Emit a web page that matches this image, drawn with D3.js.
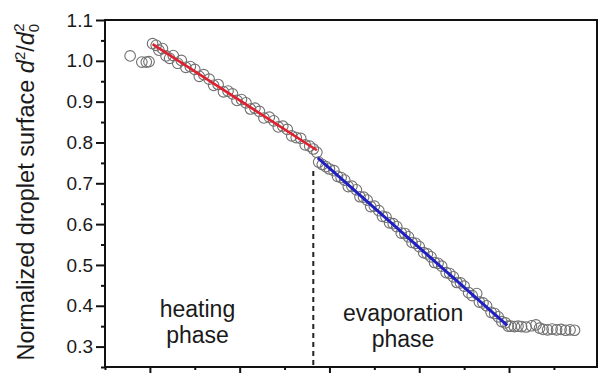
<!DOCTYPE html>
<html>
<head>
<meta charset="utf-8">
<script src="https://cdn.jsdelivr.net/npm/d3@7/dist/d3.min.js"></script>
<style>
  html, body { margin: 0; padding: 0; background: #fff; }
  svg { display: block; }
  text { font-family: "Liberation Sans", Arial, sans-serif; fill: #1a1a1a; }
</style>
</head>
<body>
<div id="chart"></div>
<script>
// Measured droplet surface (open circles), time in arbitrary units
const preX  = [0.78, 0.91, 0.96, 0.99];
const preY  = [1.012, 0.997, 0.997, 0.998];

const heatX = [1.03, 1.07, 1.10, 1.14, 1.18, 1.22, 1.26, 1.31, 1.35, 1.40, 1.45, 1.50, 1.55,
               1.60, 1.66, 1.71, 1.76, 1.82, 1.87, 1.92, 1.97, 2.02, 2.07, 2.12, 2.17, 2.22,
               2.27, 2.33, 2.38, 2.43, 2.48, 2.53, 2.58, 2.63, 2.68, 2.73, 2.78, 2.82, 2.86];
const heatY = [1.042, 1.038, 1.026, 1.030, 1.012, 1.006, 1.013, 0.994, 1.001, 0.984, 0.986, 0.979, 0.962,
               0.966, 0.955, 0.940, 0.942, 0.924, 0.926, 0.919, 0.903, 0.905, 0.897, 0.882, 0.884, 0.876,
               0.860, 0.862, 0.853, 0.838, 0.840, 0.832, 0.816, 0.812, 0.810, 0.794, 0.791, 0.784, 0.776];

const evapX = [2.88, 2.92, 2.96, 3.00, 3.05, 3.09, 3.13, 3.17, 3.21, 3.25, 3.30, 3.34, 3.38, 3.42,
               3.46, 3.50, 3.55, 3.59, 3.63, 3.67, 3.71, 3.75, 3.80, 3.84, 3.88, 3.92, 3.96, 4.00,
               4.05, 4.09, 4.13, 4.17, 4.21, 4.25, 4.30, 4.34, 4.38, 4.42, 4.46, 4.50, 4.55, 4.59,
               4.64, 4.67, 4.71, 4.75, 4.80, 4.84, 4.88, 4.92, 4.96, 4.99];
const evapY = [0.752, 0.746, 0.741, 0.735, 0.731, 0.717, 0.714, 0.708, 0.692, 0.693, 0.684, 0.667, 0.666, 0.659,
               0.643, 0.644, 0.633, 0.619, 0.617, 0.603, 0.601, 0.594, 0.578, 0.577, 0.569, 0.555, 0.553, 0.545,
               0.530, 0.527, 0.520, 0.506, 0.504, 0.497, 0.481, 0.479, 0.471, 0.457, 0.456, 0.448, 0.432, 0.425,
               0.430, 0.409, 0.407, 0.400, 0.384, 0.381, 0.373, 0.361, 0.358, 0.350];

const plateauX = [5.02, 5.06, 5.10, 5.14, 5.19, 5.25, 5.30, 5.34, 5.38, 5.43, 5.48, 5.53, 5.58, 5.63, 5.68, 5.73];
const plateauY = [0.350, 0.349, 0.350, 0.349, 0.348, 0.351, 0.353, 0.345, 0.342, 0.341, 0.343, 0.341, 0.342, 0.340, 0.341, 0.340];

// Linear fits for the two phases: [start, end]
const heatFitX = [1.03, 2.86];
const heatFitY = [1.041, 0.781];
const evapFitX = [2.87, 4.98];
const evapFitY = [0.762, 0.352];

// Phase boundary
const boundaryX = 2.82;
const boundaryTopY = 0.73;

const yTicks = [0.3, 0.4, 0.5, 0.6, 0.7, 0.8, 0.9, 1.0, 1.1];
const yMinor = [0.25, 0.35, 0.45, 0.55, 0.65, 0.75, 0.85, 0.95, 1.05];
const xTicks = [1, 2, 3, 4, 5];
const xMinor = [0.5, 1.5, 2.5, 3.5, 4.5, 5.5];

const phaseLabels = [
  { lines: ["heating", "phase"], x: 1.53, y: 0.372 },
  { lines: ["evaporation", "phase"], x: 3.82, y: 0.362 }
];

const W = 600, H = 383;
const margin = { left: 105, right: 3, top: 20, bottom: 16 };

const svg = d3.select("#chart").append("svg").attr("width", W).attr("height", H);

const x = d3.scaleLinear().domain([0.5, 5.98]).range([margin.left, W - margin.right]);
const y = d3.scaleLinear().domain([0.25, 1.1]).range([H - margin.bottom, margin.top]);

const toPts = (xs, ys) => xs.map((v, i) => [v, ys[i]]);
const points = [].concat(toPts(preX, preY), toPts(heatX, heatY), toPts(evapX, evapY), toPts(plateauX, plateauY));

// phase boundary
svg.append("line")
  .attr("x1", x(boundaryX)).attr("x2", x(boundaryX))
  .attr("y1", y(boundaryTopY)).attr("y2", y(0.25))
  .attr("stroke", "#222").attr("stroke-width", 2).attr("stroke-dasharray", "5,4");

// data circles
svg.append("g").selectAll("circle").data(points).join("circle")
  .attr("cx", d => x(d[0])).attr("cy", d => y(d[1])).attr("r", 5.3)
  .attr("fill", "none").attr("stroke", "#707070").attr("stroke-width", 1.1);

// fit lines
const line = d3.line().x(d => x(d[0])).y(d => y(d[1]));
svg.append("path").datum(toPts(heatFitX, heatFitY)).attr("d", line)
  .attr("fill", "none").attr("stroke", "#e0202e").attr("stroke-width", 2.6);
svg.append("path").datum(toPts(evapFitX, evapFitY)).attr("d", line)
  .attr("fill", "none").attr("stroke", "#1f1fc4").attr("stroke-width", 3);

// axes
const yAxis = svg.append("g").attr("transform", `translate(${margin.left},0)`)
  .call(d3.axisLeft(y).tickValues(yTicks).tickFormat(d3.format(".1f")).tickSize(9).tickPadding(3));
yAxis.selectAll("text").style("font-size", "19px");
svg.append("g").attr("transform", `translate(${margin.left},0)`)
  .call(d3.axisLeft(y).tickValues(yMinor).tickFormat("").tickSize(4));

svg.append("g").attr("transform", `translate(0,${H - margin.bottom})`)
  .call(d3.axisBottom(x).tickValues(xTicks).tickFormat("").tickSize(6));
svg.append("g").attr("transform", `translate(0,${H - margin.bottom})`)
  .call(d3.axisBottom(x).tickValues(xMinor).tickFormat("").tickSize(3));

svg.selectAll(".domain").remove();
svg.selectAll(".tick line").attr("stroke", "#111").attr("stroke-width", 2);

// frame
svg.append("rect")
  .attr("x", margin.left).attr("y", margin.top)
  .attr("width", W - margin.right - margin.left).attr("height", H - margin.bottom - margin.top)
  .attr("fill", "none").attr("stroke", "#111").attr("stroke-width", 2);

// phase labels
phaseLabels.forEach(p => {
  const t = svg.append("text").attr("text-anchor", "middle")
    .attr("x", x(p.x)).attr("y", y(p.y)).style("font-size", "23px");
  p.lines.forEach((s, i) => t.append("tspan").attr("x", x(p.x)).attr("dy", i ? 26 : 0).text(s));
});

// y title
const title = svg.append("text")
  .attr("transform", `translate(34,192) rotate(-90)`)
  .attr("text-anchor", "middle").style("font-size", "23.5px");
title.append("tspan").text("Normalized droplet surface ");
title.append("tspan").style("font-style", "italic").text("d");
title.append("tspan").attr("dy", -9).style("font-size", "15px").text("2");
title.append("tspan").attr("dy", 9).text("/");
title.append("tspan").style("font-style", "italic").text("d");
title.append("tspan").attr("dy", 5).style("font-size", "15px").text("0");
title.append("tspan").attr("dx", -8).attr("dy", -15).style("font-size", "15px").text("2");
</script>
</body>
</html>
